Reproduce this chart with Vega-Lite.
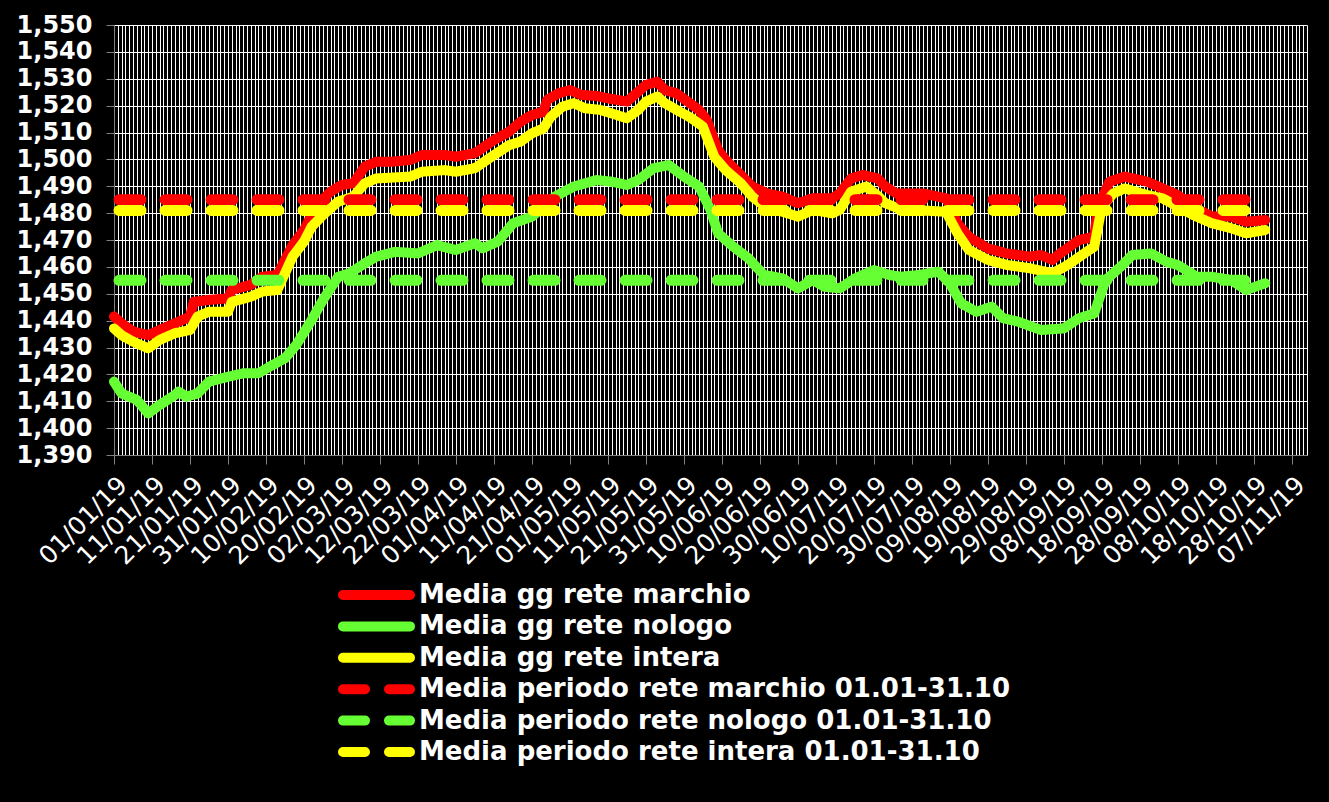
{
 "$schema": "https://vega.github.io/schema/vega-lite/v6.json",
 "width": 1193,
 "height": 430,
 "autosize": {"type": "none"},
 "padding": {"left": 114, "top": 25, "right": 22, "bottom": 347},
 "background": "#000000",
 "config": {"view": {"stroke": null}, "font": "DejaVu Sans"},
 "datasets": {
  "marchio": [
   {"d":"2019-01-01","v":1441.5},{"d":"2019-01-03","v":1439},{"d":"2019-01-06","v":1436},{"d":"2019-01-10","v":1434.6},{"d":"2019-01-13","v":1436.5},{"d":"2019-01-17","v":1439},{"d":"2019-01-21","v":1441.5},{"d":"2019-01-22","v":1447},{"d":"2019-01-26","v":1447.7},{"d":"2019-01-31","v":1448.3},
   {"d":"2019-02-01","v":1451.4},{"d":"2019-02-06","v":1453.3},{"d":"2019-02-09","v":1456.3},{"d":"2019-02-13","v":1457},{"d":"2019-02-15","v":1462.6},{"d":"2019-02-17","v":1468.1},{"d":"2019-02-20","v":1473.7},{"d":"2019-02-22","v":1479.3},{"d":"2019-02-24","v":1483.7},{"d":"2019-02-27","v":1488},
   {"d":"2019-03-02","v":1490.5},{"d":"2019-03-05","v":1491.1},{"d":"2019-03-08","v":1497.3},{"d":"2019-03-11","v":1499.1},{"d":"2019-03-15","v":1499.1},{"d":"2019-03-20","v":1499.8},{"d":"2019-03-23","v":1501.6},{"d":"2019-03-29","v":1501.6},
   {"d":"2019-04-01","v":1501},{"d":"2019-04-06","v":1502.3},{"d":"2019-04-11","v":1507.2},{"d":"2019-04-15","v":1510.3},{"d":"2019-04-18","v":1514},{"d":"2019-04-21","v":1516.5},{"d":"2019-04-24","v":1517.7},{"d":"2019-04-25","v":1522.1},{"d":"2019-04-28","v":1524.6},
   {"d":"2019-05-01","v":1525.8},{"d":"2019-05-04","v":1524},{"d":"2019-05-08","v":1523.6},{"d":"2019-05-11","v":1522.7},{"d":"2019-05-16","v":1521.5},{"d":"2019-05-18","v":1524},{"d":"2019-05-21","v":1527.7},{"d":"2019-05-24","v":1528.9},{"d":"2019-05-26","v":1525.8},{"d":"2019-05-29","v":1524.6},
   {"d":"2019-06-01","v":1521.5},{"d":"2019-06-04","v":1518.4},{"d":"2019-06-06","v":1514.7},{"d":"2019-06-09","v":1503.5},{"d":"2019-06-11","v":1499.8},{"d":"2019-06-15","v":1494.2},{"d":"2019-06-18","v":1489.9},{"d":"2019-06-22","v":1487.3},{"d":"2019-06-26","v":1486.1},{"d":"2019-06-30","v":1483.7},
   {"d":"2019-07-04","v":1485.5},{"d":"2019-07-09","v":1485.5},{"d":"2019-07-11","v":1487.3},{"d":"2019-07-14","v":1492.9},{"d":"2019-07-17","v":1494.2},{"d":"2019-07-21","v":1492.9},{"d":"2019-07-23","v":1489.9},{"d":"2019-07-26","v":1487.3},
   {"d":"2019-08-02","v":1487.3},{"d":"2019-08-08","v":1485.5},{"d":"2019-08-11","v":1476.2},{"d":"2019-08-14","v":1471.2},{"d":"2019-08-19","v":1466.9},{"d":"2019-08-24","v":1465},{"d":"2019-08-30","v":1463.8},
   {"d":"2019-09-02","v":1464.4},{"d":"2019-09-05","v":1462.6},{"d":"2019-09-07","v":1465},{"d":"2019-09-12","v":1470},{"d":"2019-09-16","v":1471.2},{"d":"2019-09-17","v":1482.4},{"d":"2019-09-20","v":1491.7},{"d":"2019-09-24","v":1493.6},{"d":"2019-09-30","v":1491.7},
   {"d":"2019-10-04","v":1489.2},{"d":"2019-10-08","v":1486.7},{"d":"2019-10-12","v":1482.4},{"d":"2019-10-17","v":1478.7},{"d":"2019-10-22","v":1478.7},{"d":"2019-10-26","v":1476.8},{"d":"2019-10-31","v":1477.4}
  ],
  "nologo": [
   {"d":"2019-01-01","v":1417.3},{"d":"2019-01-03","v":1412.9},{"d":"2019-01-07","v":1410.5},{"d":"2019-01-10","v":1405.5},{"d":"2019-01-13","v":1408.6},{"d":"2019-01-17","v":1412.3},{"d":"2019-01-18","v":1413.6},{"d":"2019-01-20","v":1411.7},{"d":"2019-01-23","v":1412.9},{"d":"2019-01-26","v":1417.3},{"d":"2019-01-31","v":1419.1},
   {"d":"2019-02-04","v":1420.4},{"d":"2019-02-08","v":1420.4},{"d":"2019-02-11","v":1422.9},{"d":"2019-02-15","v":1426},{"d":"2019-02-18","v":1431},{"d":"2019-02-22","v":1440.2},{"d":"2019-02-25","v":1447.7},
   {"d":"2019-03-01","v":1456.3},{"d":"2019-03-04","v":1457.6},{"d":"2019-03-08","v":1461.3},{"d":"2019-03-11","v":1463.8},{"d":"2019-03-16","v":1465.6},{"d":"2019-03-22","v":1465},{"d":"2019-03-27","v":1468.1},
   {"d":"2019-04-01","v":1466.3},{"d":"2019-04-06","v":1468.8},{"d":"2019-04-08","v":1466.9},{"d":"2019-04-12","v":1469.4},{"d":"2019-04-15","v":1474.4},{"d":"2019-04-16","v":1476.2},{"d":"2019-04-21","v":1478.7},{"d":"2019-04-27","v":1486.1},
   {"d":"2019-05-02","v":1489.9},{"d":"2019-05-08","v":1492.3},{"d":"2019-05-12","v":1491.7},{"d":"2019-05-16","v":1490.5},{"d":"2019-05-19","v":1492.3},{"d":"2019-05-23","v":1496.7},{"d":"2019-05-27","v":1497.9},{"d":"2019-05-31","v":1493.6},
   {"d":"2019-06-04","v":1489.9},{"d":"2019-06-07","v":1481.2},{"d":"2019-06-09","v":1472.5},{"d":"2019-06-13","v":1467.5},{"d":"2019-06-17","v":1463.2},{"d":"2019-06-21","v":1457},{"d":"2019-06-26","v":1455.7},{"d":"2019-06-30","v":1452},
   {"d":"2019-07-04","v":1455.1},{"d":"2019-07-07","v":1452.6},{"d":"2019-07-11","v":1452},{"d":"2019-07-15","v":1455.7},{"d":"2019-07-20","v":1458.8},{"d":"2019-07-24","v":1457},{"d":"2019-07-27","v":1456.3},
   {"d":"2019-08-01","v":1457},{"d":"2019-08-06","v":1458.2},{"d":"2019-08-09","v":1453.9},{"d":"2019-08-12","v":1446.4},{"d":"2019-08-16","v":1443.3},{"d":"2019-08-20","v":1445.2},{"d":"2019-08-23","v":1440.9},{"d":"2019-08-27","v":1439.6},
   {"d":"2019-09-02","v":1436.5},{"d":"2019-09-08","v":1437.1},{"d":"2019-09-12","v":1440.9},{"d":"2019-09-16","v":1442.7},{"d":"2019-09-19","v":1455.1},{"d":"2019-09-23","v":1460.1},{"d":"2019-09-26","v":1464.4},
   {"d":"2019-10-01","v":1465},{"d":"2019-10-05","v":1461.9},{"d":"2019-10-08","v":1460.7},{"d":"2019-10-13","v":1456.3},{"d":"2019-10-17","v":1456.3},{"d":"2019-10-22","v":1455.1},{"d":"2019-10-26","v":1451.4},{"d":"2019-10-31","v":1453.9}
  ],
  "intera": [
   {"d":"2019-01-01","v":1437.1},{"d":"2019-01-03","v":1434.6},{"d":"2019-01-06","v":1432.2},{"d":"2019-01-10","v":1429.7},{"d":"2019-01-13","v":1432.8},{"d":"2019-01-17","v":1435.3},{"d":"2019-01-21","v":1436.5},{"d":"2019-01-23","v":1441.5},{"d":"2019-01-26","v":1443.3},{"d":"2019-01-31","v":1443.3},
   {"d":"2019-02-01","v":1447},{"d":"2019-02-06","v":1448.9},{"d":"2019-02-09","v":1450.8},{"d":"2019-02-13","v":1451.4},{"d":"2019-02-15","v":1457.6},{"d":"2019-02-17","v":1463.8},{"d":"2019-02-20","v":1469.4},{"d":"2019-02-22","v":1474.9},{"d":"2019-02-25","v":1479.3},
   {"d":"2019-03-01","v":1484.3},{"d":"2019-03-05","v":1486.1},{"d":"2019-03-08","v":1491.1},{"d":"2019-03-11","v":1492.9},{"d":"2019-03-20","v":1493.6},{"d":"2019-03-23","v":1495.4},{"d":"2019-03-29","v":1496},
   {"d":"2019-04-01","v":1495.4},{"d":"2019-04-06","v":1496.7},{"d":"2019-04-11","v":1501.6},{"d":"2019-04-15","v":1505.3},{"d":"2019-04-18","v":1506.6},{"d":"2019-04-21","v":1509.7},{"d":"2019-04-24","v":1511.5},{"d":"2019-04-26","v":1515.9},{"d":"2019-04-29","v":1519.6},
   {"d":"2019-05-02","v":1520.9},{"d":"2019-05-05","v":1519},{"d":"2019-05-09","v":1518.4},{"d":"2019-05-12","v":1517.1},{"d":"2019-05-16","v":1515.3},{"d":"2019-05-19","v":1518.4},{"d":"2019-05-21","v":1521.5},{"d":"2019-05-24","v":1523.4},{"d":"2019-05-26","v":1520.9},{"d":"2019-05-30","v":1517.7},
   {"d":"2019-06-02","v":1515.3},{"d":"2019-06-05","v":1512.2},{"d":"2019-06-08","v":1501},{"d":"2019-06-11","v":1496},{"d":"2019-06-15","v":1491.1},{"d":"2019-06-18","v":1486.1},{"d":"2019-06-22","v":1481.8},{"d":"2019-06-26","v":1480.5},{"d":"2019-06-30","v":1478.7},
   {"d":"2019-07-04","v":1481.2},{"d":"2019-07-09","v":1479.9},{"d":"2019-07-11","v":1481.2},{"d":"2019-07-14","v":1488},{"d":"2019-07-18","v":1489.9},{"d":"2019-07-21","v":1486.5},{"d":"2019-07-23","v":1483.7},{"d":"2019-07-26","v":1482},{"d":"2019-07-30","v":1481.2},
   {"d":"2019-08-08","v":1480.5},{"d":"2019-08-11","v":1472.5},{"d":"2019-08-14","v":1466.3},{"d":"2019-08-19","v":1462.6},{"d":"2019-08-24","v":1460.7},{"d":"2019-08-30","v":1459.5},
   {"d":"2019-09-05","v":1457.6},{"d":"2019-09-09","v":1460.7},{"d":"2019-09-14","v":1465.6},{"d":"2019-09-16","v":1467.5},{"d":"2019-09-18","v":1482.4},{"d":"2019-09-21","v":1487.3},{"d":"2019-09-24","v":1489.2},{"d":"2019-09-30","v":1486.7},
   {"d":"2019-10-04","v":1485.5},{"d":"2019-10-08","v":1482.4},{"d":"2019-10-12","v":1479.3},{"d":"2019-10-17","v":1476.2},{"d":"2019-10-22","v":1474.4},{"d":"2019-10-26","v":1472.5},{"d":"2019-10-31","v":1473.7}
  ],
  "pmarchio": [{"d":"2019-01-01","v":1485},{"d":"2019-10-31","v":1485}],
  "pnologo": [{"d":"2019-01-01","v":1455},{"d":"2019-10-31","v":1455}],
  "pintera": [{"d":"2019-01-01","v":1481},{"d":"2019-10-31","v":1481}]
 },
 "encoding": {
  "y": {"field": "v", "type": "quantitative",
   "scale": {"domain": [1390, 1550], "nice": false, "zero": false},
   "axis": {"values": [1390,1400,1410,1420,1430,1440,1450,1460,1470,1480,1490,1500,1510,1520,1530,1540,1550], "format": ",.0f", "labelOverlap": false, "labelBound": false, "labelFlush": false, "grid": true, "gridColor": "#ffffff", "gridWidth": 1, "gridOpacity": 1, "labelColor": "#ffffff", "labelFontSize": 24, "labelFontWeight": "bold", "labelFont": "DejaVu Sans", "labelPadding": 14, "tickColor": "#808080", "tickSize": 8, "domainColor": "#808080", "title": null}}
 },
 "layer": [
  {
   "data": {"name": "marchio"},
   "mark": {"type": "line", "strokeWidth": 10, "strokeCap": "round", "strokeJoin": "round"},
   "encoding": {
    "x": {"field": "d", "type": "temporal",
     "scale": {"type": "utc", "domain": [{"year":2019,"month":1,"date":1,"utc":true},{"year":2019,"month":11,"date":11,"utc":true}]},
     "axis": {"orient": "bottom", "grid": true, "gridColor": "#ffffff", "gridWidth": 1, "gridOpacity": 1, "labels": false, "ticks": false, "domain": false, "tickCount": 314, "title": null}},
    "color": {"datum": "Media gg rete marchio", "type": "nominal",
     "scale": {"domain": ["Media gg rete marchio","Media gg rete nologo","Media gg rete intera","Media periodo rete marchio 01.01-31.10","Media periodo rete nologo 01.01-31.10","Media periodo rete intera 01.01-31.10"],
               "range": ["#ff0000","#66ff33","#ffff00","#ff0000","#66ff33","#ffff00"]},
     "legend": {"title": null, "orient": "none", "legendX": 224, "legendY": 554.5, "padding": 0, "symbolType": "stroke", "symbolSize": 4489, "symbolStrokeWidth": 10, "symbolOpacity": 1, "clipHeight": 31, "rowPadding": 0.4, "labelOffset": 4, "labelColor": "#ffffff", "labelFontSize": 26, "labelFontWeight": "bold", "labelFont": "DejaVu Sans", "labelLimit": 0,
       "encode": {"symbols": {"update": {"strokeCap": {"value": "round"}}}}}},
    "strokeDash": {"datum": "Media gg rete marchio", "type": "nominal",
     "scale": {"domain": ["Media gg rete marchio","Media gg rete nologo","Media gg rete intera","Media periodo rete marchio 01.01-31.10","Media periodo rete nologo 01.01-31.10","Media periodo rete intera 01.01-31.10"],
               "range": [[1,0],[1,0],[1,0],[22,24],[22,24],[22,24]]}}
   }
  },
  {
   "data": {"name": "nologo"},
   "mark": {"type": "line", "strokeWidth": 10, "strokeCap": "round", "strokeJoin": "round"},
   "encoding": {
    "x": {"field": "d", "type": "temporal",
     "axis": {"orient": "bottom", "grid": false, "values": [
      {"year":2019,"month":1,"date":1,"utc":true},{"year":2019,"month":1,"date":11,"utc":true},{"year":2019,"month":1,"date":21,"utc":true},{"year":2019,"month":1,"date":31,"utc":true},
      {"year":2019,"month":2,"date":10,"utc":true},{"year":2019,"month":2,"date":20,"utc":true},{"year":2019,"month":3,"date":2,"utc":true},{"year":2019,"month":3,"date":12,"utc":true},
      {"year":2019,"month":3,"date":22,"utc":true},{"year":2019,"month":4,"date":1,"utc":true},{"year":2019,"month":4,"date":11,"utc":true},{"year":2019,"month":4,"date":21,"utc":true},
      {"year":2019,"month":5,"date":1,"utc":true},{"year":2019,"month":5,"date":11,"utc":true},{"year":2019,"month":5,"date":21,"utc":true},{"year":2019,"month":5,"date":31,"utc":true},
      {"year":2019,"month":6,"date":10,"utc":true},{"year":2019,"month":6,"date":20,"utc":true},{"year":2019,"month":6,"date":30,"utc":true},{"year":2019,"month":7,"date":10,"utc":true},
      {"year":2019,"month":7,"date":20,"utc":true},{"year":2019,"month":7,"date":30,"utc":true},{"year":2019,"month":8,"date":9,"utc":true},{"year":2019,"month":8,"date":19,"utc":true},
      {"year":2019,"month":8,"date":29,"utc":true},{"year":2019,"month":9,"date":8,"utc":true},{"year":2019,"month":9,"date":18,"utc":true},{"year":2019,"month":9,"date":28,"utc":true},
      {"year":2019,"month":10,"date":8,"utc":true},{"year":2019,"month":10,"date":18,"utc":true},{"year":2019,"month":10,"date":28,"utc":true},{"year":2019,"month":11,"date":7,"utc":true}],
      "format": "%d/%m/%y", "labelAngle": -45, "labelColor": "#ffffff", "labelFontSize": 25, "labelFont": "DejaVu Sans", "labelPadding": 8, "labelOverlap": false, "labelFlush": false, "labelBound": false,
      "tickColor": "#808080", "tickSize": 9, "domainColor": "#808080", "title": null}},
    "color": {"datum": "Media gg rete nologo", "type": "nominal"},
    "strokeDash": {"datum": "Media gg rete nologo", "type": "nominal"}
   }
  },
  {
   "data": {"name": "intera"},
   "mark": {"type": "line", "strokeWidth": 10, "strokeCap": "round", "strokeJoin": "round"},
   "encoding": {
    "x": {"field": "d", "type": "temporal", "axis": null},
    "color": {"datum": "Media gg rete intera", "type": "nominal"},
    "strokeDash": {"datum": "Media gg rete intera", "type": "nominal"}
   }
  },
  {
   "data": {"name": "pmarchio"},
   "mark": {"type": "line", "strokeWidth": 11, "strokeCap": "round", "strokeDashOffset": -5},
   "encoding": {
    "x": {"field": "d", "type": "temporal", "axis": null},
    "color": {"datum": "Media periodo rete marchio 01.01-31.10", "type": "nominal"},
    "strokeDash": {"datum": "Media periodo rete marchio 01.01-31.10", "type": "nominal"}
   }
  },
  {
   "data": {"name": "pnologo"},
   "mark": {"type": "line", "strokeWidth": 11, "strokeCap": "round", "strokeDashOffset": -5},
   "encoding": {
    "x": {"field": "d", "type": "temporal", "axis": null},
    "color": {"datum": "Media periodo rete nologo 01.01-31.10", "type": "nominal"},
    "strokeDash": {"datum": "Media periodo rete nologo 01.01-31.10", "type": "nominal"}
   }
  },
  {
   "data": {"name": "pintera"},
   "mark": {"type": "line", "strokeWidth": 11, "strokeCap": "round", "strokeDashOffset": -5},
   "encoding": {
    "x": {"field": "d", "type": "temporal", "axis": null},
    "color": {"datum": "Media periodo rete intera 01.01-31.10", "type": "nominal"},
    "strokeDash": {"datum": "Media periodo rete intera 01.01-31.10", "type": "nominal"}
   }
  }
 ],
 "resolve": {"axis": {"x": "independent"}}
}
